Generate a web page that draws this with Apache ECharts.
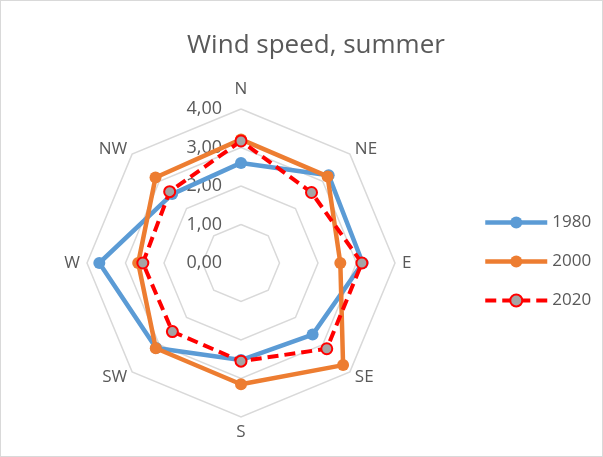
<!DOCTYPE html>
<html>
<head>
<meta charset="utf-8">
<script src="https://cdn.jsdelivr.net/npm/echarts@6/dist/echarts.min.js"></script>
<style>
  html, body { margin: 0; padding: 0; background: #fff; }
  #chart { width: 603px; height: 457px; box-sizing: border-box; border: 1px solid #d9d9d9; }
</style>
</head>
<body>
<div id="chart"></div>
<script>
// Wind directions, clockwise from north
const directions = ['N', 'NE', 'E', 'SE', 'S', 'SW', 'W', 'NW'];
const seriesNames = ['1980', '2000', '2020'];
// Mean summer wind speed per direction
const speed1980 = [2.60, 3.22, 3.16, 2.63, 2.52, 3.12, 3.68, 2.53];
const speed2000 = [3.21, 3.18, 2.58, 3.75, 3.15, 3.13, 2.67, 3.14];
const speed2020 = [3.17, 2.59, 3.14, 3.15, 2.55, 2.52, 2.55, 2.62];
const radialTicks = [0, 1, 2, 3, 4];

const textColor = '#595959';
const fontFamily = '"Open Sans", "Noto Sans", sans-serif';

// ECharts lays radar indicators out counter-clockwise, so walk the
// directions N, NW, W, ... to get them clockwise on screen.
const order = directions.map((_, i) => (directions.length - i) % directions.length);
const reorder = arr => order.map(i => arr[i]);

const rMax = radialTicks[radialTicks.length - 1];
const indicators = order.map((i, k) => {
  const ind = { name: directions[i], min: radialTicks[0], max: rMax };
  if (k === 0) {
    ind.nameGap = 11;
    ind.axisLabel = {
      show: true,
      color: textColor,
      fontSize: 18,
      fontFamily: fontFamily,
      margin: 19,
      formatter: v => v.toFixed(2).replace('.', ',')
    };
  }
  return ind;
});

const styles = [
  { color: '#5b9bd5', size: 12, line: { color: '#5b9bd5', width: 4.5, type: 'solid' }, item: { color: '#5b9bd5' } },
  { color: '#ed7d31', size: 12, line: { color: '#ed7d31', width: 4.5, type: 'solid' }, item: { color: '#ed7d31' } },
  { color: '#ff0000', size: 11, line: { color: '#ff0000', width: 4, type: [11, 6] }, item: { color: '#a5a5a5', borderColor: '#ff0000', borderWidth: 2 } }
];
const values = [speed1980, speed2000, speed2020];

// Empty line series only supply the legend's line-with-marker icons
const legendSeries = seriesNames.map((name, s) => ({
  type: 'line',
  name: name,
  data: [],
  symbol: 'circle',
  color: styles[s].color,
  lineStyle: styles[s].line,
  itemStyle: styles[s].item
}));

const chart = echarts.init(document.getElementById('chart'));
chart.setOption({
  animation: false,
  title: {
    text: 'Wind speed, summer',
    left: 310,
    textAlign: 'center',
    top: 27,
    textStyle: { color: textColor, fontSize: 26, fontWeight: 'normal', fontFamily: fontFamily }
  },
  legend: {
    orient: 'vertical',
    left: 482,
    top: 213,
    padding: 0,
    itemWidth: 62,
    itemHeight: 15,
    itemGap: 22,
    data: seriesNames.map((name, s) => ({
      name: name,
      lineStyle: { width: styles[s].line.width, type: styles[s].line.type, color: styles[s].line.color },
      itemStyle: Object.assign({ borderWidth: 0 }, styles[s].item)
    })),
    textStyle: { color: textColor, fontSize: 17, fontFamily: fontFamily }
  },
  grid: { show: false, left: 0, top: 0, width: 1, height: 1 },
  xAxis: { show: false, type: 'value' },
  yAxis: { show: false, type: 'value' },
  radar: {
    center: [240, 262],
    radius: 154,
    shape: 'polygon',
    startAngle: 90,
    splitNumber: radialTicks.length - 1,
    indicator: indicators,
    axisName: { color: textColor, fontSize: 17, fontFamily: fontFamily },
    nameGap: 7,
    axisLine: { show: false },
    axisTick: { show: false },
    axisLabel: { show: false },
    splitLine: { lineStyle: { color: '#d9d9d9', width: 1.5 } },
    splitArea: { show: false }
  },
  series: legendSeries.concat(seriesNames.map((name, s) => ({
    type: 'radar',
    name: name,
    color: styles[s].color,
    symbol: 'circle',
    symbolSize: styles[s].size,
    lineStyle: styles[s].line,
    itemStyle: styles[s].item,
    z: 2 + s,
    data: [{ name: name, value: reorder(values[s]) }]
  })))
});
</script>
</body>
</html>
